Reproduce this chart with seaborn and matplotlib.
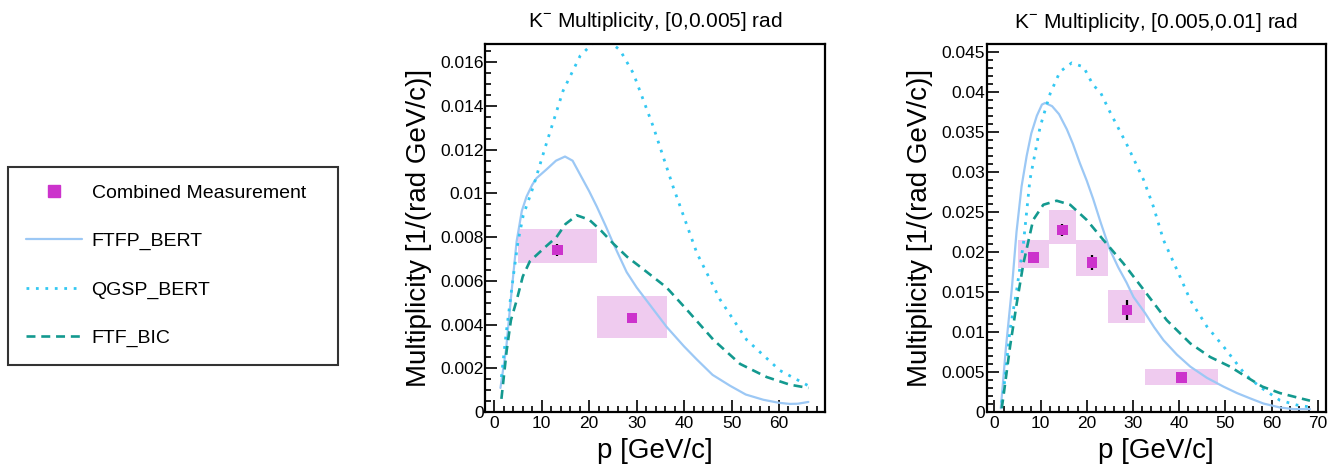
import numpy as np
import pandas as pd
import matplotlib
matplotlib.use("Agg")
import matplotlib.pyplot as plt
import seaborn as sns
from matplotlib.ticker import MultipleLocator, FuncFormatter
from matplotlib.lines import Line2D

# ---------------- data: left panel [0,0.005] rad ----------------
ftfp_x_L = [1.3, 2.5, 3.5, 4.7, 5.8, 6.8, 8.0, 8.9, 11, 13, 14.9, 16.5, 18, 20, 21.6, 23.5,
            25.1, 27.9, 30, 32.1, 36.3, 40, 42.7, 46, 49.7, 53, 56.7, 60, 62.3, 64, 66.2]
ftfp_y_L = [0.0011, 0.0029, 0.0052, 0.0078, 0.0092, 0.00986, 0.0104, 0.0107, 0.0111, 0.0115,
            0.01169, 0.0115, 0.0109, 0.0101, 0.0094, 0.0085, 0.0077, 0.0064, 0.0057, 0.0051,
            0.0039, 0.0030, 0.0024, 0.0017, 0.0012, 0.0008, 0.00056, 0.00042, 0.00037, 0.00038, 0.00046]

qgsp_x_L = [1.5, 2.5, 4, 5, 6.1, 8.2, 11, 14.5, 18.1, 20.9, 22.5, 24, 26.5, 29.3, 33.5,
            37.7, 42.7, 47.6, 53.2, 60.2, 66.2]
qgsp_y_L = [0.0016, 0.0036, 0.0062, 0.0078, 0.0090, 0.0103, 0.0123, 0.0147, 0.0163, 0.0169,
            0.0171, 0.0170, 0.01656, 0.0155, 0.01306, 0.0103, 0.00727, 0.00514, 0.0033, 0.0019, 0.0012]

ftfbic_x_L = [1.5, 2.6, 3.5, 4.7, 6, 7.5, 9, 11, 13.1, 15, 17.4, 20, 22.5, 25.1, 28, 31,
              36.3, 40.5, 46.2, 51.8, 57.4, 62.3, 66.2]
ftfbic_y_L = [0.0006, 0.0028, 0.0042, 0.0051, 0.0062, 0.0069, 0.0072, 0.0076, 0.0080, 0.0086,
              0.0090, 0.0088, 0.0083, 0.0077, 0.0071, 0.0066, 0.0057, 0.0047, 0.0033, 0.0022,
              0.0016, 0.00125, 0.0011]

meas_edges_L = [5.06, 21.57, 36.5]
meas_y_L = [0.00742, 0.0043]
meas_err_L = [0.00027, 0.0001]
sys_lo_L = [0.00684, 0.00338]
sys_hi_L = [0.00837, 0.00529]

# ---------------- data: right panel [0.005,0.01] rad ----------------
ftfp_x_R = [1.4, 2.5, 3.8, 4.8, 5.9, 7, 8, 9.2, 10.3, 11, 12.5, 14, 15.7, 17, 18.5, 20, 21.4,
            23, 25, 26.8, 28.6, 30.1, 32.6, 34.6, 36.6, 39.5, 42.4, 46, 49.6, 52.5, 55.3, 58.2,
            61.8, 64.7, 68.3]
ftfp_y_R = [0.0005, 0.008, 0.0155, 0.0225, 0.0282, 0.0320, 0.0348, 0.0370, 0.0384, 0.0386,
            0.0382, 0.0372, 0.0353, 0.0335, 0.0311, 0.0289, 0.0266, 0.0237, 0.0203, 0.0181,
            0.0162, 0.0144, 0.0124, 0.0106, 0.0090, 0.0072, 0.0057, 0.0043, 0.0032, 0.0024,
            0.00175, 0.0011, 0.0006, 0.0004, 0.0004]

qgsp_x_R = [1.6, 1.95, 3.4, 4.85, 6.3, 7.7, 9.9, 11.3, 12.1, 14.2, 16.75, 19.3, 21.4, 22.9, 25,
            28.6, 32.3, 34.4, 36.6, 40.2, 42.4, 46.0, 49.6, 53.9, 55.3, 57.9, 61.8, 65.5, 67.9]
qgsp_y_R = [0.0012, 0.0024, 0.0103, 0.0153, 0.0211, 0.0290, 0.0356, 0.0383, 0.0398, 0.0425,
            0.0436, 0.0431, 0.0408, 0.0400, 0.0375, 0.0335, 0.0290, 0.0257, 0.0215, 0.0169,
            0.0140, 0.0107, 0.0082, 0.0050, 0.0042, 0.0030, 0.0015, 0.0009, 0.0007]

ftfbic_x_R = [1.6, 1.95, 3.4, 4.85, 6.3, 8.4, 10.6, 13.5, 16.4, 20, 23.6, 27.9, 32.3, 37.3,
              42.4, 46.7, 51.0, 54.6, 58, 61.8, 66.2, 68.3]
ftfbic_y_R = [0.0005, 0.0019, 0.0082, 0.0136, 0.0186, 0.0240, 0.0259, 0.0264, 0.0259, 0.0240,
              0.0215, 0.0186, 0.0153, 0.0115, 0.0086, 0.0069, 0.0057, 0.0044, 0.0032, 0.0024,
              0.00175, 0.00145]

meas_edges_R = [5.2, 11.8, 17.7, 24.7, 32.6, 48.4]
meas_y_R = [0.0193, 0.02275, 0.0187, 0.01277, 0.00433]
meas_err_R = [0.0007, 0.0008, 0.0009, 0.0012, 0.0002]
sys_lo_R = [0.0180, 0.0210, 0.0170, 0.0111, 0.0034]
sys_hi_R = [0.0215, 0.0253, 0.0215, 0.01526, 0.0054]

titles = [r"K$^{\mathregular{-}}$ Multiplicity, [0,0.005] rad",
          r"K$^{\mathregular{-}}$ Multiplicity, [0.005,0.01] rad"]
xlabel = "p [GeV/c]"
ylabel = "Multiplicity [1/(rad GeV/c)]"
legend_labels = ["Combined Measurement", "FTFP_BERT", "QGSP_BERT", "FTF_BIC"]

# ---------------- style ----------------
sns.set_theme(style="ticks")
plt.rcParams['font.family'] = ['Liberation Sans', 'DejaVu Sans']
plt.rcParams['mathtext.fontset'] = 'custom'
plt.rcParams['mathtext.rm'] = 'Liberation Sans'
plt.rcParams['text.color'] = 'black'
plt.rcParams['axes.labelcolor'] = 'black'
plt.rcParams['xtick.color'] = 'black'
plt.rcParams['ytick.color'] = 'black'

c_ftfp = '#9cc8f5'
c_qgsp = '#33c8f2'
c_bic = '#13998f'
c_meas = '#cc33cc'
c_box = '#efcbef'
ls_qgsp = (0, (1.0, 2.4))
ls_bic = (0, (3.4, 2.2))

fig = plt.figure(figsize=(13.38, 4.70), dpi=100)
axL = fig.add_axes([485 / 1338, 1 - 412 / 470, 340 / 1338, 368 / 470])
axR = fig.add_axes([986.7 / 1338, 1 - 412.3 / 470, 339 / 1338, 368 / 470])

fmt = FuncFormatter(lambda v, p: '%g' % round(v, 6))

panels = [
    (axL, ftfp_x_L, ftfp_y_L, qgsp_x_L, qgsp_y_L, ftfbic_x_L, ftfbic_y_L,
     meas_edges_L, meas_y_L, meas_err_L, sys_lo_L, sys_hi_L,
     (-1.96, 69.7), (0, 0.01684), 0.002, 0.0005, titles[0]),
    (axR, ftfp_x_R, ftfp_y_R, qgsp_x_R, qgsp_y_R, ftfbic_x_R, ftfbic_y_R,
     meas_edges_R, meas_y_R, meas_err_R, sys_lo_R, sys_hi_R,
     (-1.65, 71.7), (0, 0.04592), 0.005, 0.001, titles[1]),
]

for (ax, fx, fy, qx, qy, bx, by, edges, my, me, lo, hi, xl, yl, ymaj, ymin, title) in panels:
    edges = np.array(edges)
    centers = 0.5 * (edges[:-1] + edges[1:])
    widths = np.diff(edges)
    lo = np.array(lo); hi = np.array(hi)
    ax.bar(centers, hi - lo, bottom=lo, width=widths, color=c_box, edgecolor='none',
           linewidth=0, zorder=1)
    sns.lineplot(x=fx, y=fy, ax=ax, color=c_ftfp, lw=1.6, zorder=2)
    sns.lineplot(x=qx, y=qy, ax=ax, color=c_qgsp, lw=2.0, linestyle=ls_qgsp, zorder=2)
    sns.lineplot(x=bx, y=by, ax=ax, color=c_bic, lw=1.9, linestyle=ls_bic, zorder=2)
    ax.errorbar(centers, my, yerr=me, fmt='none', ecolor='black', elinewidth=1.6, zorder=3)
    sns.scatterplot(x=centers, y=my, ax=ax, marker='s', s=55, color=c_meas,
                    edgecolor='none', linewidth=0, zorder=4)
    ax.set_xlim(*xl)
    ax.set_ylim(*yl)
    ax.xaxis.set_major_locator(MultipleLocator(10))
    ax.xaxis.set_minor_locator(MultipleLocator(2))
    ax.yaxis.set_major_locator(MultipleLocator(ymaj))
    ax.yaxis.set_minor_locator(MultipleLocator(ymin))
    ax.yaxis.set_major_formatter(fmt)
    ax.xaxis.set_major_formatter(fmt)
    ax.tick_params(which='major', direction='in', length=8.5, width=1.2, labelsize=12.5,
                   top=False, right=False, colors='black', pad=3)
    ax.tick_params(which='minor', direction='in', length=4.5, width=1.2,
                   top=False, right=False, colors='black')
    ax.tick_params(axis='y', which='major', pad=1)
    for s in ax.spines.values():
        s.set_linewidth(1.6)
        s.set_color('black')
    ax.set_xlabel(xlabel, fontsize=20, labelpad=5, color='black')
    ax.set_ylabel(ylabel, fontsize=20, labelpad=6, color='black')
    ax.set_title(title, fontsize=15, pad=12, color='black')
    ax.grid(False)

handles = [
    Line2D([], [], marker='s', ls='none', color=c_meas, markersize=9),
    Line2D([], [], color=c_ftfp, lw=1.6),
    Line2D([], [], color=c_qgsp, lw=2.0, linestyle=ls_qgsp),
    Line2D([], [], color=c_bic, lw=1.9, linestyle=ls_bic),
]
leg = fig.legend(handles, legend_labels, loc='upper left',
                 bbox_to_anchor=(8 / 1338, 1 - 167 / 470, 330 / 1338, 0.0),
                 mode='expand', frameon=True, fancybox=False, fontsize=14,
                 handlelength=2.9, handletextpad=0.5, labelspacing=1.57, borderpad=0.9,
                 borderaxespad=0, labelcolor='black')
leg.get_frame().set_edgecolor('black')
leg.get_frame().set_linewidth(1.5)

fig.savefig("out.png", dpi=100)
